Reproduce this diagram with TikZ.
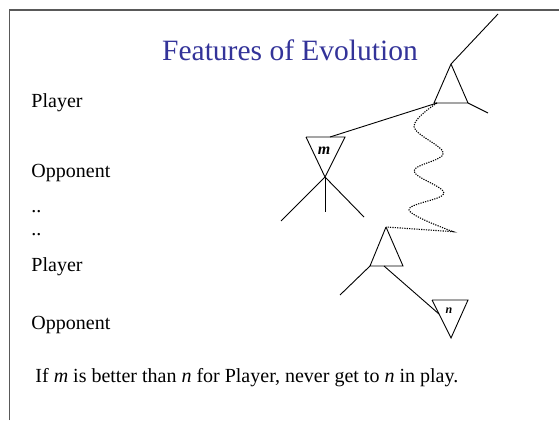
\documentclass[tikz,border=0pt]{standalone}
\usepackage{fontspec}
\setmainfont{Liberation Serif}
\usepackage{tikz}
\usetikzlibrary{calc,positioning}
\definecolor{titleblue}{RGB}{51,51,153}

\begin{document}
\begin{tikzpicture}[x=1pt,y=-1pt,line width=0.9pt,
  lbl/.style={anchor=base west,inner sep=0pt,font=\fontsize{20}{24}\selectfont},
  mv/.style={inner sep=0pt,font=\bfseries\itshape},
  wavy/.style={line width=1.1pt,dash pattern=on 1.2pt off 1.2pt}]
  \useasboundingbox (0,0) rectangle (559,420);
  \coordinate (fBL) at (9.7,420);
  \coordinate (fTR) at (559,10);
  \draw [gray!70!black,line width=1.2pt](fBL) |- (fTR);
  \node[anchor=base,inner sep=0pt,text=titleblue,font=\fontsize{29.5}{34}\selectfont] (title) at (290,60) {Features of Evolution};
  \node[lbl] (pl1) at (31,107) {Player};
  \node[lbl] (op1) at (31,177) {Opponent};
  \node[lbl] (dt1) at (31,212) {..};
  \node[lbl] (dt2) at (31,235) {..};
  \node[lbl] (pl2) at (31,271) {Player};
  \node[lbl] (op2) at (31,329) {Opponent};
  \node[lbl] (note) at (35,382) {If \textit{m} is better than \textit{n} for Player, never get to \textit{n} in play.};
  % player node at the top
  \coordinate (tA) at (451,64);
  \coordinate (tL) at (434,103);
  \coordinate (tR) at (468,103);
  \coordinate (tJ) at (437,103);
  \coordinate (tUp) at (498,14);
  \coordinate (tOut) at (488,113);
  \draw (tA) -- (tL) -- (tR) -- (tA);
  \draw (tA) -- (tUp);
  \draw (tR) -- (tOut);
  % opponent node m
  \coordinate (mL) at (306,137);
  \coordinate (mR) at (345,137);
  \coordinate (mA) at (325,177);
  \coordinate (mJ) at (330,137);
  \draw (mL) -- (mR) -- (mA) -- (mL);
  \node[mv,font=\fontsize{16}{16}\selectfont\bfseries\itshape] (mlab) at (324,151) {m};
  \draw (tJ) -- (mJ);
  \coordinate (mC1) at (281,221);
  \coordinate (mC2) at (325,212);
  \coordinate (mC3) at (364,217);
  \draw (mA) -- (mC1);
  \draw (mA) -- (mC2);
  \draw (mA) -- (mC3);
  % player node further down
  \coordinate (bA) at (386,227);
  \coordinate (bL) at (370,266);
  \coordinate (bR) at (403,266);
  \coordinate (bJ) at (384,266);
  \coordinate (bOut) at (340,295);
  \draw (bA) -- (bL) -- (bR) -- (bA);
  \draw (bL) -- (bOut);
  \draw [wavy] plot[smooth,tension=0.6] coordinates {(tJ) (414,126.7) (443.3,153.3) (414,171) (444,193.3) (409,210) (453.3,231.7)} -- (bA);
  % opponent node n
  \coordinate (nL) at (432,300);
  \coordinate (nR) at (468,300);
  \coordinate (nA) at (451,338);
  \coordinate (nJ) at (439,314);
  \draw (nL) -- (nR) -- (nA) -- (nL);
  \node[mv,font=\fontsize{12}{12}\selectfont\bfseries\itshape] (nlab) at (449,311) {n};
  \draw (bJ) -- (nJ);
\end{tikzpicture}
\end{document}
